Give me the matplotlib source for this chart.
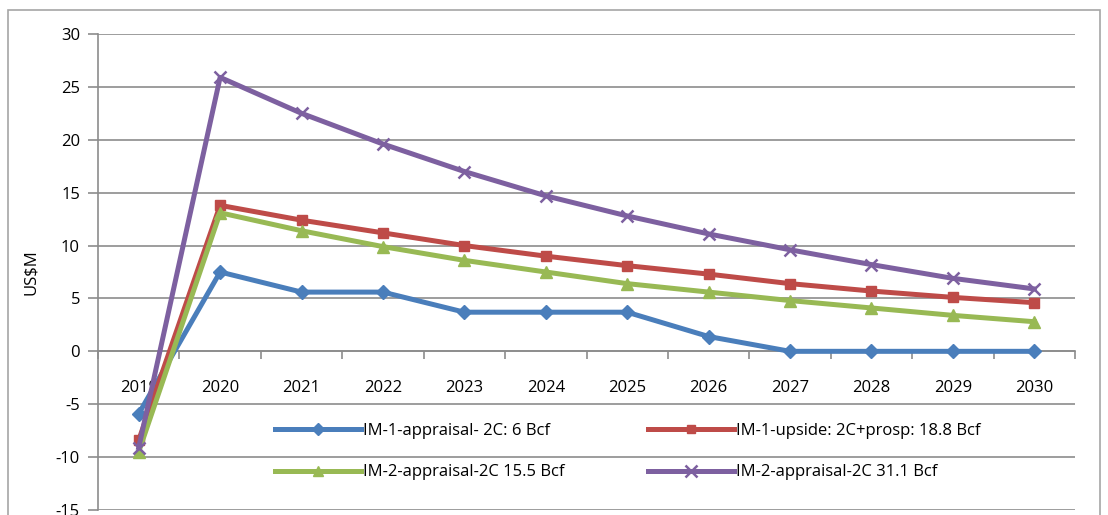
import matplotlib
matplotlib.use("Agg")
import matplotlib.pyplot as plt
from matplotlib.patches import Rectangle
import numpy as np

years = ["2019", "2020", "2021", "2022", "2023", "2024", "2025", "2026", "2027", "2028", "2029", "2030"]
im1_appraisal = [-5.9, 7.5, 5.6, 5.6, 3.7, 3.7, 3.7, 1.4, 0.0, 0.0, 0.0, 0.0]
im1_upside = [-8.4, 13.8, 12.4, 11.2, 10.0, 9.0, 8.1, 7.3, 6.4, 5.7, 5.1, 4.6]
im2_155 = [-9.5, 13.1, 11.4, 9.9, 8.6, 7.5, 6.4, 5.6, 4.8, 4.1, 3.4, 2.8]
im2_311 = [-9.1, 25.9, 22.5, 19.6, 17.0, 14.7, 12.8, 11.1, 9.6, 8.2, 6.9, 5.9]

labels = ["IM-1-appraisal- 2C: 6 Bcf", "IM-1-upside: 2C+prosp: 18.8 Bcf",
          "IM-2-appraisal-2C 15.5 Bcf", "IM-2-appraisal-2C 31.1 Bcf"]
colors = ["#4A7EBB", "#BE4B48", "#98B954", "#7D60A0"]
markers = ["D", "s", "^", "x"]

plt.rcParams['font.family'] = ['Open Sans', 'DejaVu Sans']
plt.rcParams['axes.unicode_minus'] = False

fig = plt.figure(figsize=(11.08, 5.15), dpi=100)
ax = fig.add_axes([98/1108, 1 - 510/515, (1075 - 98)/1108, (510 - 34)/515])

# outer border
fig.patches.append(Rectangle((8/1108, -0.05), (1100 - 8)/1108, 1 - 10/515 + 0.05,
                             transform=fig.transFigure, fill=False,
                             edgecolor="#A6A6A6", linewidth=1.2))

x = np.arange(len(years))
series = [im1_appraisal, im1_upside, im2_155, im2_311]
handles = []
for vals, c, m, lab in zip(series, colors, markers, labels):
    if m == "x":
        h, = ax.plot(x, vals, color=c, lw=3.6, marker=m, ms=9, mew=1.8, label=lab, zorder=3)
    else:
        h, = ax.plot(x, vals, color=c, lw=3.6, marker=m, ms=7 if m != "^" else 8,
                     label=lab, zorder=3)
    handles.append(h)

ax.set_xlim(-0.5, len(years) - 0.5)
ax.set_ylim(-15, 30)
ax.set_yticks(np.arange(-15, 31, 5))
ax.yaxis.grid(True, color="#8C8C8C", linewidth=1.2)
ax.set_axisbelow(True)

for s in ["top", "right"]:
    ax.spines[s].set_visible(False)
ax.spines["left"].set_color("#8C8C8C")
ax.spines["left"].set_linewidth(1.2)
ax.spines["bottom"].set_position(("data", 0))
ax.spines["bottom"].set_color("#8C8C8C")
ax.spines["bottom"].set_linewidth(1.2)

ax.set_xticks(x)
ax.set_xticklabels(years)
ax.set_xticks(np.arange(-0.5, len(years), 1), minor=True)
ax.tick_params(axis="x", which="major", length=0, pad=21, labelsize=12)
ax.tick_params(axis="x", which="minor", length=6, color="#8C8C8C", width=1.2, direction="out")
ax.tick_params(axis="y", which="major", length=7, color="#8C8C8C", width=1.2, labelsize=12, pad=6)

ax.set_ylabel("US$M", fontsize=12, labelpad=12)

order = [0, 2, 1, 3]
leg = ax.legend([handles[i] for i in order], [labels[i] for i in order], ncol=2,
                loc="upper left", bbox_to_anchor=(268/1108, 1 - 416/515),
                bbox_transform=fig.transFigure, frameon=False, fontsize=12,
                handlelength=5.2, handletextpad=0.1, columnspacing=5.0,
                labelspacing=1.55, borderaxespad=0, markerscale=0.9)

fig.savefig("out.png", dpi=100)
